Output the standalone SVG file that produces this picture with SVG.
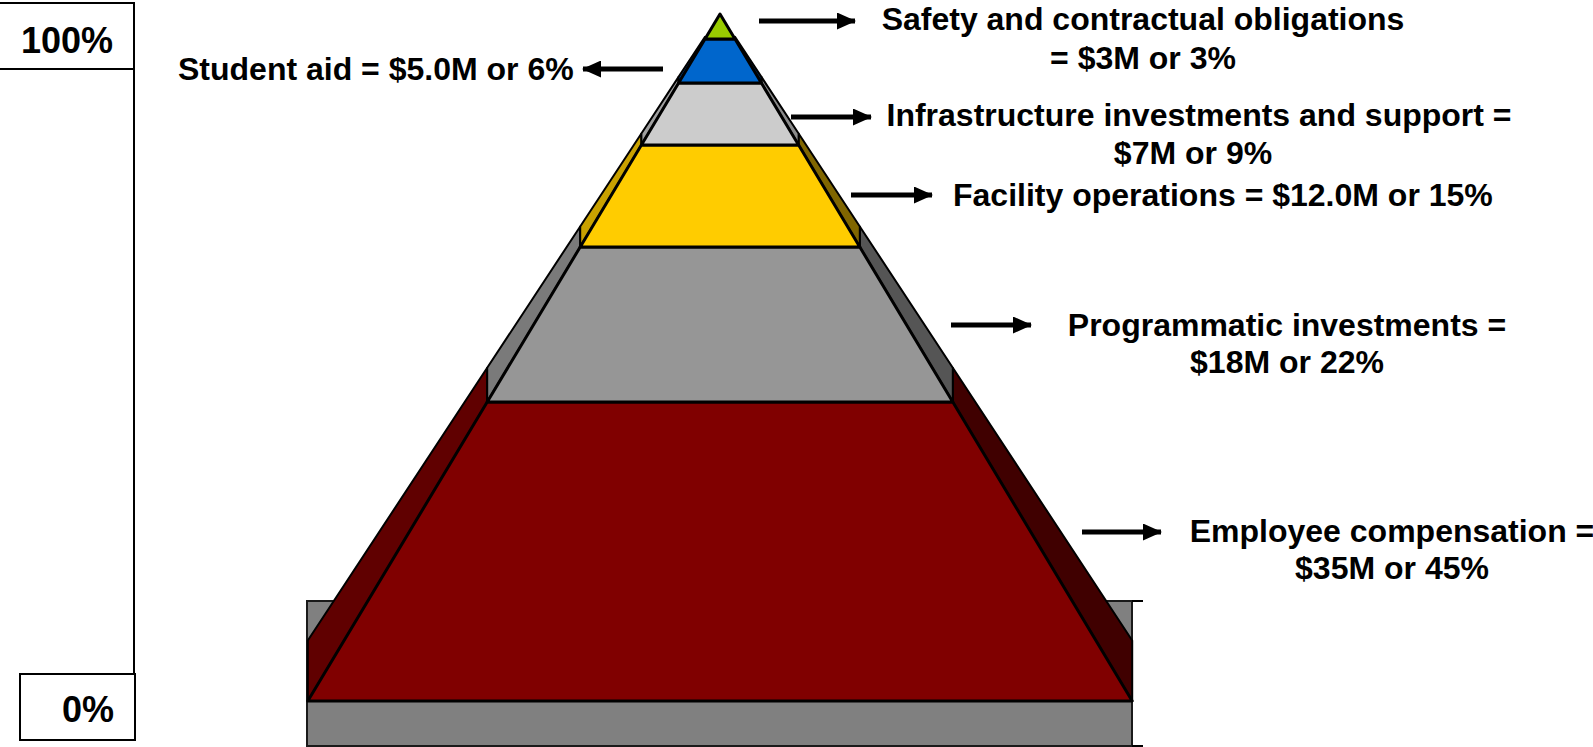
<svg xmlns="http://www.w3.org/2000/svg" width="1593" height="747" viewBox="0 0 1593 747">
<defs>
<style>
.lbl{font-family:"Liberation Sans",Arial,sans-serif;font-weight:bold;font-size:32px;fill:#000}
.pct{font-family:"Liberation Sans",Arial,sans-serif;font-weight:bold;font-size:36px;fill:#000}
.face{stroke:#000;stroke-width:3;stroke-linejoin:round}
.band{stroke:#000;stroke-width:2;stroke-linejoin:round}
.arr{stroke:#000;stroke-width:5;fill:none}
.frame{fill:#fff;stroke:#000;stroke-width:2}
</style>
<marker id="ah" markerWidth="19" markerHeight="17" refX="18" refY="8.5" orient="auto" markerUnits="userSpaceOnUse">
<path d="M0,0 L19,8.5 L0,17 Z" fill="#000"/>
</marker>
</defs>
<rect width="1593" height="747" fill="#fff"/>

<g id="scale">
<rect class="frame" x="-2" y="3" width="136" height="66"/>
<line x1="134" y1="69" x2="134" y2="674" stroke="#000" stroke-width="2"/>
<rect class="frame" x="20" y="674" width="115" height="66"/>
<text class="pct" x="67" y="53" text-anchor="middle">100%</text>
<text class="pct" x="88" y="722" text-anchor="middle">0%</text>
</g>

<g id="base">
<rect x="307" y="601" width="825" height="145" fill="#808080" stroke="#1a1a1a" stroke-width="2"/>
<line x1="1132" y1="601" x2="1143" y2="601" stroke="#000" stroke-width="2"/>
<line x1="1132" y1="746" x2="1143" y2="746" stroke="#000" stroke-width="2"/>
</g>

<g id="layer-employee">
<polygon class="band" fill="#600000" points="487.2,402 487.2,367.8 307.8,640.5 307.8,701"/>
<polygon class="band" fill="#400000" points="952.8,402 952.8,367.8 1132.2,640.5 1132.2,701"/>
<polygon class="face" fill="#800000" points="487.2,402 952.8,402 1132.2,701 307.8,701"/>
</g>

<g id="layer-programmatic">
<polygon class="band" fill="#7a7a7a" points="580.2,247 580.2,226.5 487.2,367.8 487.2,402"/>
<polygon class="band" fill="#555555" points="859.8,247 859.8,226.5 952.8,367.8 952.8,402"/>
<polygon class="face" fill="#969696" points="580.2,247 859.8,247 952.8,402 487.2,402"/>
</g>

<g id="layer-facility">
<polygon class="band" fill="#c9a100" points="641.4,145 641.4,133.5 580.2,226.5 580.2,247"/>
<polygon class="band" fill="#806600" points="798.6,145 798.6,133.5 859.8,226.5 859.8,247"/>
<polygon class="face" fill="#ffcc00" points="641.4,145 798.6,145 859.8,247 580.2,247"/>
</g>

<g id="layer-infrastructure">
<polygon class="band" fill="#a0a0a0" points="678.6,83 678.6,76.9 641.4,133.5 641.4,145"/>
<polygon class="band" fill="#8a8a8a" points="761.4,83 761.4,76.9 798.6,133.5 798.6,145"/>
<polygon class="face" fill="#cccccc" points="678.6,83 761.4,83 798.6,145 641.4,145"/>
</g>

<g id="layer-student-aid">
<polygon class="band" fill="#004c99" points="705,39 705,36.8 678.6,76.9 678.6,83"/>
<polygon class="band" fill="#003366" points="735,39 735,36.8 761.4,76.9 761.4,83"/>
<polygon class="face" fill="#0066cc" points="705,39 735,39 761.4,83 678.6,83"/>
</g>

<g id="layer-safety">
<polygon class="face" fill="#99cc00" points="720,14 735,39 705,39"/>
</g>

<g id="connectors">
<line class="arr" x1="759" y1="21" x2="855" y2="21" marker-end="url(#ah)"/>
<line class="arr" x1="663" y1="69" x2="583" y2="69" marker-end="url(#ah)"/>
<line class="arr" x1="791" y1="117" x2="871" y2="117" marker-end="url(#ah)"/>
<line class="arr" x1="851" y1="195" x2="932" y2="195" marker-end="url(#ah)"/>
<line class="arr" x1="951" y1="325" x2="1031" y2="325" marker-end="url(#ah)"/>
<line class="arr" x1="1082" y1="532" x2="1161" y2="532" marker-end="url(#ah)"/>
</g>

<g id="labels">
<text class="lbl" x="1143" y="30" text-anchor="middle">Safety and contractual obligations</text>
<text class="lbl" x="1143" y="69" text-anchor="middle">= $3M or 3%</text>
<text class="lbl" x="178" y="80">Student aid = $5.0M or 6%</text>
<text class="lbl" x="1199" y="126" text-anchor="middle">Infrastructure investments and support =</text>
<text class="lbl" x="1193" y="164" text-anchor="middle">$7M or 9%</text>
<text class="lbl" x="953" y="206">Facility operations = $12.0M or 15%</text>
<text class="lbl" x="1287" y="336" text-anchor="middle">Programmatic investments =</text>
<text class="lbl" x="1287" y="373" text-anchor="middle">$18M or 22%</text>
<text class="lbl" x="1392" y="542" text-anchor="middle">Employee compensation =</text>
<text class="lbl" x="1392" y="579" text-anchor="middle">$35M or 45%</text>
</g>
</svg>
